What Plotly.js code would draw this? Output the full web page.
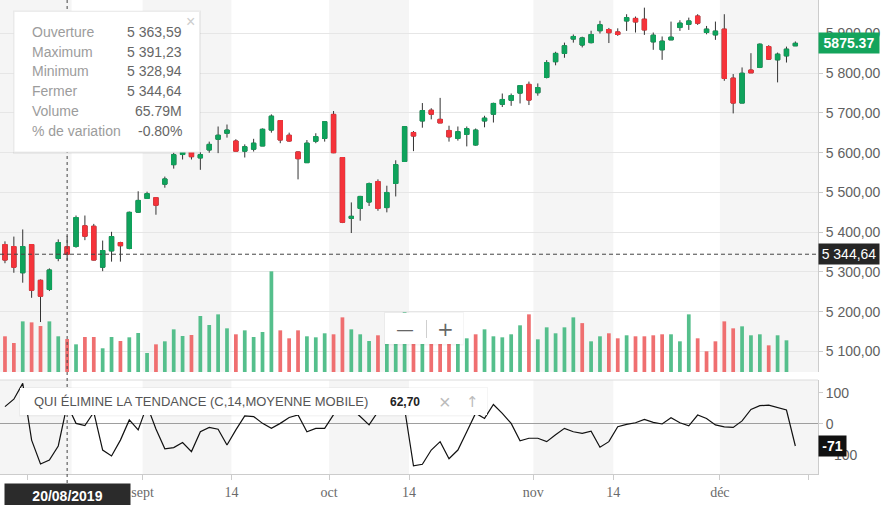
<!DOCTYPE html>
<html><head><meta charset="utf-8">
<script src="https://cdn.plot.ly/plotly-3.0.1.min.js"></script>
<style>html,body{margin:0;padding:0;background:#fff}#chart{width:894px;height:505px}</style>
</head><body><div id="chart"></div>
<script>
// ---------- data ----------
const startDate = '2019-08-09';
const opens  = [5369,5364,5298,5369,5279,5256,5334,5363.59,5364,5416,5415,5312,5353,5374,5359,5450.5,5485,5487,5521,5570,
  5595.5,5603,5587,5607,5634,5649,5629.5,5604,5609,5617,5657,5681,5644,5602,5575,5629,5636,5696.5,5588,5435,
  5460,5476,5527.6,5462,5522.6,5578,5651,5680,5707,5684,5656,5636,5646,5619.5,5680,5697,5722,5732,5750,5772,
  5751,5789.5,5829,5850,5886,5871,5877,5907,5910,5904,5931.6,5938,5936,5879,5859,5884,5915,5923,5944,5902.5,
  5896.5,5911,5787.7,5725,5808,5814.6,5867,5833.7,5843.7,5869];
const highs  = [5377,5389,5407,5370,5281,5309,5382,5391.23,5442,5442,5421,5379,5401,5376,5452,5503,5502,5488,5540,5600,
  5608,5605,5601,5628,5666,5671,5634,5621,5635,5661,5696.5,5682,5650.5,5603,5632,5649,5678,5705,5588,5475,
  5491.5,5525,5533,5517,5581,5667,5654.6,5725,5712,5738,5668,5666,5666,5661,5693,5726,5749,5749,5770,5779,
  5774.4,5833,5854,5877,5897.5,5892,5907,5932,5914,5913,5948.5,5942.7,5965,5902.5,5892.5,5930,5933.4,5940,5948.5,5919,
  5930,5948.5,5798,5814.6,5850.5,5875,5870.6,5852,5867,5880];
const lows   = [5322,5298,5273,5235,5174,5252,5327,5328.94,5361,5380,5329,5302,5326,5326,5357,5449,5484,5444,5512,5560,
  5583,5583,5557,5600,5599,5638,5604,5588,5603,5617,5650.5,5624,5628,5533,5575,5624,5628,5599,5423,5398,
  5429,5466,5454,5450,5490,5578,5604,5663,5684,5675,5628,5630.5,5616,5618,5664,5676,5715,5718,5724,5720,
  5743.5,5787,5820,5839,5877,5865,5875,5900,5876,5894,5906.5,5902.5,5896.5,5859,5833.7,5884,5906.5,5909,5921.6,5898,
  5884,5781,5699,5725,5801,5813,5833.7,5777,5827,5869];
const closes = [5330,5312,5364,5254,5239,5305,5374,5344.64,5437,5390,5330,5354,5389,5366,5450,5480,5497,5468,5534,5595,
  5603,5590,5595,5621,5644,5657,5604,5615,5624,5659,5692,5632,5629.5,5585,5624,5640.5,5678,5600,5425,5440,
  5490,5522.6,5460,5500,5570,5665.6,5642,5706,5697,5675,5640,5653,5660.6,5657,5687,5724,5734,5744,5769,5732.5,
  5764,5827,5850,5869,5892.5,5889,5897.5,5922,5902,5897.5,5940,5929,5909,5895.7,5880.7,5890.7,5926,5931.6,5926,5911,
  5906,5787,5725,5800,5801,5873,5835.5,5848,5860.6,5875.37];
const volumesM = [71.2,57.8,101,99,91.7,101,71.2,65.79,55.2,69.8,69.8,47.3,69.8,61.8,69.2,77.8,37.9,55.2,61.2,85.1,
  71.8,73.8,111.7,93.7,115,87.1,75.2,83.1,69.8,79.8,200.8,83.1,67.2,83.1,71.2,69.2,77.2,75.2,109,85.1,
  75.2,61.8,73.2,73,78,119,76,80,70,74,72,66,67.2,75.2,85.1,71.2,69.2,75.2,93.1,115,
  65.2,89.1,77.2,89.1,109,97.5,61.2,71.2,77.2,67.2,73.2,71.2,71.2,73.2,75.2,75.2,61.2,115,67.2,41.3,
  61.2,101,87.1,91.1,73.2,75.2,53.2,73.2,63.2,null];
const dpo = [56,80,131,-52,-129,-116,-71,62.7,2,-5,38,-84,-103,-52,13,-19,60,-16,-80,-76,
  -60,-89,-25,-11,-17,-68,-19,26,24,2,-14,2,21,29,-25,-14,-14,30,60,50,
  24,-3,40,55,50,50,-135,-130,-84,-57,-112,-84,-25,35,18,63,34,2,-54,-46,
  -46,-57,-35,-14,-25,-30,-23,-75,-57,-9,-1,4,15,5,0,20,4,-6,29,18,
  -3,-9,-11,10,47,59,61,53,45,-71];

const tickDates  = ['2019-08-14','2019-09-01','2019-09-14','2019-10-01','2019-10-14','2019-11-01','2019-11-14','2019-12-01','2019-12-14'];
const tickLabels = ['14','sept','14','oct','14','nov','14','déc',''];
const bandRanges = [['2019-08-01','2019-08-21'],['2019-09-01','2019-09-14'],['2019-10-01','2019-10-14'],['2019-11-01','2019-11-14'],['2019-12-01','2019-12-31']];
const priceTicks = [5100,5200,5300,5400,5500,5600,5700,5800,5900];
const dpoTicks = [-100,0,100];
const hoverIndex = 7;
const hoverDateLabel = '20/08/2019';
const hoverChangePct = '-0.80%';
const dpoHoverText = '62,70';
const tooltipLabels = ['Ouverture','Maximum','Minimum','Fermer','Volume','% de variation'];
const indicatorTitle = 'QUI ÉLIMINE LA TENDANCE (C,14,MOYENNE MOBILE)';

// ---------- helpers ----------
function dayNum(s){const p=s.split('-').map(Number);return Date.UTC(p[0],p[1]-1,p[2])/864e5;}
function isWeekday(t){const wd=new Date(t*864e5).getUTCDay();return wd!==0&&wd!==6;}
function tradingPos(s){const a=dayNum(startDate),b=dayNum(s);let n=0;
  if(b>=a){for(let t=a;t<b;t++) if(isWeekday(t)) n++;} else {for(let t=b;t<a;t++) if(isWeekday(t)) n--;}
  return n;}
function fmt(n){const s=n.toFixed(2).split('.');return s[0].replace(/\B(?=(\d{3})+(?!\d))/g,' ')+','+s[1];}

const N = closes.length;
const xs = closes.map((_,i)=>i);
const xRange = [-0.56, 91.55];
const clampX = v => Math.max(xRange[0], Math.min(xRange[1], v));

const GREEN='#0fa35c', RED='#f5333a', WICK='#333333';
const VGREEN='#55bf8c', VRED='#ef6f70';

const bodyHi = opens.map((o,i)=>Math.max(o,closes[i]));
const bodyLo = opens.map((o,i)=>Math.min(o,closes[i]));
const volColors = closes.map((c,i)=>{const ref = i===0?opens[0]:closes[i-1];return c>=ref?VGREEN:VRED;});

const traces = [
  {type:'bar', x:xs, y:volumesM, yaxis:'y3', width:0.42, marker:{color:volColors, line:{width:0}}, hoverinfo:'skip'},
  {type:'candlestick', x:xs, open:opens, high:highs, low:lows, close:closes, yaxis:'y2',
   increasing:{line:{color:WICK,width:1},fillcolor:WICK}, decreasing:{line:{color:WICK,width:1},fillcolor:WICK}, hoverinfo:'skip'},
  {type:'candlestick', x:xs, open:opens, high:bodyHi, low:bodyLo, close:closes, yaxis:'y2',
   increasing:{line:{color:GREEN,width:1},fillcolor:GREEN}, decreasing:{line:{color:RED,width:1},fillcolor:RED}, hoverinfo:'skip'},
  {type:'scatter', mode:'lines', x:xs, y:dpo, yaxis:'y', line:{color:'#111',width:1.2}, hoverinfo:'skip'}
];

// pixel helpers for overlay boxes (plot area: 818 x 474, origin top-left at 0,0)
const PW=818, PH=474;
const px = v => v/PW;
const py = v => (PH - v)/PH;

const shapes = [];
bandRanges.forEach(r=>{
  const x0=clampX(tradingPos(r[0])-0.5), x1=clampX(tradingPos(r[1])-0.5);
  ['y2 domain','y domain'].forEach(yr=>shapes.push({type:'rect',xref:'x',yref:yr,x0:x0,x1:x1,y0:0,y1:1,fillcolor:'#f5f5f5',line:{width:0},layer:'below'}));
});
// indicator top border
shapes.push({type:'line',xref:'paper',yref:'y domain',x0:0,x1:1,y0:1,y1:1,line:{color:'#dcdcdc',width:1}});
// crosshair
shapes.push({type:'line',xref:'x',yref:'paper',x0:hoverIndex,x1:hoverIndex,y0:1,y1:py(486),line:{color:'#444',width:1,dash:'3px,3px'},layer:'above'});
shapes.push({type:'line',xref:'paper',yref:'y2',x0:0,x1:1,y0:closes[hoverIndex],y1:closes[hoverIndex],line:{color:'#444',width:1,dash:'4px,3px'},layer:'above'});
// tooltip box
shapes.push({type:'rect',xref:'paper',yref:'paper',x0:px(13),x1:px(201),y0:py(10.5),y1:py(154),fillcolor:'rgba(0,0,0,0.05)',line:{width:0},layer:'above'});
shapes.push({type:'rect',xref:'paper',yref:'paper',x0:px(14),x1:px(199.5),y0:py(11.5),y1:py(152),fillcolor:'#ffffff',line:{color:'#ececec',width:1},layer:'above'});
// indicator legend box
shapes.push({type:'rect',xref:'paper',yref:'paper',x0:px(19),x1:px(488),y0:py(387),y1:py(416.5),fillcolor:'rgba(0,0,0,0.04)',line:{width:0},layer:'above'});
shapes.push({type:'rect',xref:'paper',yref:'paper',x0:px(20),x1:px(487),y0:py(388),y1:py(415),fillcolor:'#ffffff',line:{width:0},layer:'above'});
// zoom control box
shapes.push({type:'rect',xref:'paper',yref:'paper',x0:px(384),x1:px(464),y0:py(312),y1:py(345.5),fillcolor:'rgba(0,0,0,0.04)',line:{width:0},layer:'above'});
shapes.push({type:'rect',xref:'paper',yref:'paper',x0:px(385),x1:px(463),y0:py(313),y1:py(344),fillcolor:'#ffffff',line:{width:0},layer:'above'});
shapes.push({type:'line',xref:'paper',yref:'paper',x0:px(426.5),x1:px(426.5),y0:py(320),y1:py(338),line:{color:'#cfcfcf',width:1},layer:'above'});

const annotations = [];
const tipVals = [fmt(opens[hoverIndex]),fmt(highs[hoverIndex]),fmt(lows[hoverIndex]),fmt(closes[hoverIndex]),volumesM[hoverIndex].toFixed(2)+'M',hoverChangePct];
const tipY = [31.7,51.7,71.3,91,111,130.7];
tooltipLabels.forEach((t,i)=>{
  annotations.push({xref:'paper',yref:'paper',x:px(30),y:py(tipY[i]),xanchor:'left',yanchor:'middle',text:t,showarrow:false,font:{family:'Liberation Sans, Arial, sans-serif',size:14,color:'#9c9c9c'}});
  annotations.push({xref:'paper',yref:'paper',x:px(184),y:py(tipY[i]),xanchor:'right',yanchor:'middle',text:tipVals[i],showarrow:false,font:{family:'Liberation Sans, Arial, sans-serif',size:14,color:'#666'}});
});
annotations.push({xref:'paper',yref:'paper',x:px(190),y:py(22),xanchor:'center',yanchor:'middle',text:'×',showarrow:false,font:{family:'Liberation Sans, Arial, sans-serif',size:16,color:'#cccccc'}});
// indicator legend
annotations.push({xref:'paper',yref:'paper',x:px(32),y:py(401.5),xanchor:'left',yanchor:'middle',text:indicatorTitle,showarrow:false,font:{family:'Liberation Sans, Arial, sans-serif',size:13,color:'#555'}});
annotations.push({xref:'paper',yref:'paper',x:px(405),y:py(402),xanchor:'center',yanchor:'middle',text:'<b>'+dpoHoverText+'</b>',showarrow:false,font:{family:'Liberation Sans, Arial, sans-serif',size:12,color:'#222'}});
annotations.push({xref:'paper',yref:'paper',x:px(445),y:py(402),xanchor:'center',yanchor:'middle',text:'×',showarrow:false,font:{family:'Liberation Sans, Arial, sans-serif',size:20,color:'#bbbbbb'}});
annotations.push({xref:'paper',yref:'paper',x:px(472),y:py(402),xanchor:'center',yanchor:'middle',text:'↑',showarrow:false,font:{family:'DejaVu Sans, sans-serif',size:15,color:'#bbbbbb'}});
// zoom control
annotations.push({xref:'paper',yref:'paper',x:px(405),y:py(329),xanchor:'center',yanchor:'middle',text:'—',showarrow:false,font:{family:'Liberation Sans, Arial, sans-serif',size:16,color:'#666'}});
annotations.push({xref:'paper',yref:'paper',x:px(445),y:py(329),xanchor:'center',yanchor:'middle',text:'+',showarrow:false,font:{family:'DejaVu Sans, sans-serif',size:20,color:'#666'}});
// value boxes on the right axis
annotations.push({xref:'paper',yref:'y2',x:1,y:closes[N-1],xanchor:'left',yanchor:'middle',text:'<b>'+closes[N-1].toFixed(2)+'</b>',showarrow:false,bgcolor:'#14a45c',width:58,height:18,borderpad:1,font:{family:'Liberation Sans, Arial, sans-serif',size:14,color:'#fff'}});
annotations.push({xref:'paper',yref:'y2',x:1,y:closes[hoverIndex],xanchor:'left',yanchor:'middle',text:fmt(closes[hoverIndex]),showarrow:false,bgcolor:'#262626',width:58,height:18,borderpad:1,font:{family:'Liberation Sans, Arial, sans-serif',size:14,color:'#fff'}});
annotations.push({xref:'paper',yref:'y',x:1,y:dpo[N-1],xanchor:'left',yanchor:'middle',text:'<b>'+Math.round(dpo[N-1])+'</b>',showarrow:false,bgcolor:'#111',width:25,height:18,borderpad:1,font:{family:'Liberation Sans, Arial, sans-serif',size:14,color:'#fff'}});
// hovered date box
annotations.push({xref:'x',yref:'paper',x:hoverIndex,y:py(496),xanchor:'center',yanchor:'middle',text:'<b>'+hoverDateLabel+'</b>',showarrow:false,bgcolor:'#2b2b2b',width:123,height:22,borderpad:1,font:{family:'Liberation Sans, Arial, sans-serif',size:14,color:'#fff'}});

const layout = {
  width:894, height:505, margin:{l:0,r:76,t:0,b:31},
  paper_bgcolor:'#ffffff', plot_bgcolor:'rgba(0,0,0,0)',
  separators:', ', showlegend:false, hovermode:false, dragmode:false,
  font:{family:'Liberation Sans, Arial, sans-serif', color:'#5f5f5f', size:14},
  xaxis:{range:xRange, anchor:'y', domain:[0,1], tickmode:'array',
    tickvals:tickDates.map(d=>tradingPos(d)-0.5), ticktext:tickLabels,
    ticks:'outside', ticklen:5, tickcolor:'#cccccc', showgrid:false, zeroline:false,
    showline:true, linecolor:'#cccccc', rangeslider:{visible:false},
    tickfont:{family:'Liberation Serif, Times New Roman, serif', size:14, color:'#6a6a6a'}},
  yaxis:{domain:[0,(PH-380)/PH], range:[-161.3,141.9], side:'right', anchor:'x', tickmode:'array', tickvals:dpoTicks,
    ticks:'outside', ticklen:4, tickcolor:'#cccccc', showgrid:false, zeroline:true, zerolinecolor:'#9e9e9e', zerolinewidth:1,
    showline:true, linecolor:'#cccccc', tickfont:{size:14,color:'#5f5f5f'}},
  yaxis2:{domain:[(PH-372)/PH,1], range:[5048.3,5984.3], side:'right', anchor:'x', tickmode:'array', tickvals:priceTicks,
    tickformat:',.2f', ticks:'outside', ticklen:4, tickcolor:'#cccccc', showgrid:true, gridcolor:'#e6e6e6', gridwidth:1,
    zeroline:false, showline:true, linecolor:'#cccccc', tickfont:{size:14,color:'#5f5f5f'}},
  yaxis3:{overlaying:'y2', anchor:'x', range:[0,742], visible:false, showgrid:false, zeroline:false},
  shapes:shapes, annotations:annotations
};

Plotly.newPlot('chart', traces, layout, {displayModeBar:false, staticPlot:true});
</script></body></html>
